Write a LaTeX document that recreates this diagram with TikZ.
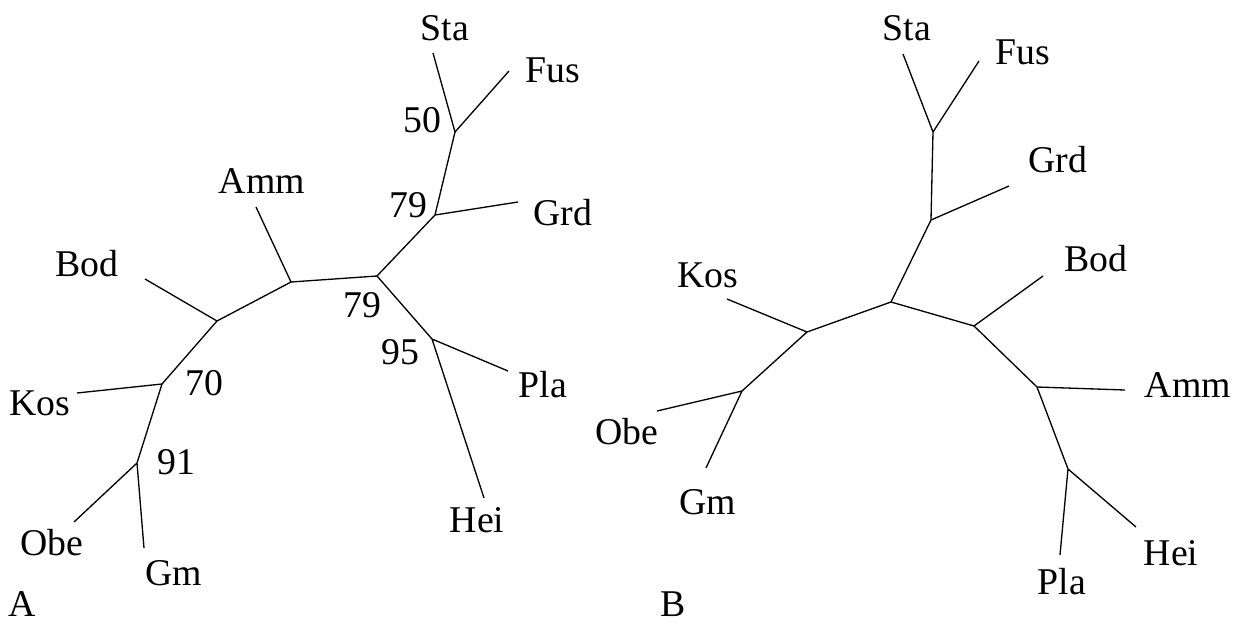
\documentclass[tikz,border=0pt]{standalone}
\usepackage{fontspec}
\setmainfont{Liberation Serif}

\begin{document}
\begin{tikzpicture}[x=0.02cm,y=-0.02cm,line width=0.75pt,
  every node/.style={inner sep=0pt,font=\fontsize{21.5}{25}\selectfont}]
\useasboundingbox(0,0)rectangle(1245,626);
% tree A: inner branch points
\coordinate(a50)at(455,132);\coordinate(a79)at(435,215);\coordinate(ar)at(377,276);
\coordinate(aamm)at(291,282);\coordinate(abod)at(217,321);\coordinate(a70)at(162,384);
\coordinate(a91)at(137,463);\coordinate(a95)at(432,339);
% tree A: branch tips
\coordinate(aSta)at(433,53);\coordinate(aFus)at(509,71);\coordinate(aGrd)at(518,202);
\coordinate(aAmm)at(256,207);\coordinate(aBod)at(145,279);\coordinate(aKos)at(77,393);
\coordinate(aObe)at(74,522);\coordinate(aGm)at(144,548);\coordinate(aPla)at(508,371);
\coordinate(aHei)at(484,498);
\draw(aSta)--(a50)--(aFus)(a50)--(a79)--(aGrd)(a79)--(ar)--(a95)--(aPla)(a95)--(aHei);
\draw(ar)--(aamm)--(aAmm)(aamm)--(abod)--(aBod)(abod)--(a70)--(aKos);
\draw(a70)--(a91)--(aObe)(a91)--(aGm);
\node(laSta)at(445,28){Sta};\node(laFus)at(553,70){Fus};\node(laGrd)at(563,213){Grd};
\node(laAmm)at(262,181){Amm};\node(laBod)at(87,264){Bod};\node(laKos)at(40,403){Kos};
\node(laObe)at(52,543){Obe};\node(laGm)at(174,573){Gm};\node(laPla)at(543,385){Pla};
\node(laHei)at(477,520){Hei};
\node(s50)at(422,120){50};\node(s79u)at(408,205){79};\node(s79)at(362,305){79};
\node(s95)at(400,352){95};\node(s70)at(204,383){70};\node(s91)at(176,462){91};
\node(pa)at(22,604){A};
% tree B: inner branch points
\coordinate(bsf)at(933,132);\coordinate(bgrd)at(931,220);\coordinate(br)at(891,302);
\coordinate(bkos)at(807,332);\coordinate(bobe)at(742,391);\coordinate(bbod)at(974,326);
\coordinate(bamm)at(1037,387);\coordinate(bph)at(1068,469);
% tree B: branch tips
\coordinate(bSta)at(903,54);\coordinate(bFus)at(979,61);\coordinate(bGrd)at(1009,186);
\coordinate(bKos)at(727,299);\coordinate(bObe)at(657,411);\coordinate(bGm)at(706,468);
\coordinate(bBod)at(1043,276);\coordinate(bAmm)at(1125,390);\coordinate(bPla)at(1060,555);
\coordinate(bHei)at(1136,527);
\draw(bSta)--(bsf)--(bFus)(bsf)--(bgrd)--(bGrd)(bgrd)--(br);
\draw(br)--(bkos)--(bKos)(bkos)--(bobe)--(bObe)(bobe)--(bGm);
\draw(br)--(bbod)--(bBod)(bbod)--(bamm)--(bAmm)(bamm)--(bph)--(bPla)(bph)--(bHei);
\node(lbSta)at(907,28){Sta};\node(lbFus)at(1023,52){Fus};\node(lbGrd)at(1058,160){Grd};
\node(lbKos)at(708,275){Kos};\node(lbObe)at(627,432){Obe};\node(lbGm)at(708,502){Gm};
\node(lbBod)at(1096,259){Bod};\node(lbAmm)at(1188,385){Amm};\node(lbPla)at(1062,582){Pla};
\node(lbHei)at(1171,553){Hei};
\node(pb)at(673,604){B};
\end{tikzpicture}
\end{document}
